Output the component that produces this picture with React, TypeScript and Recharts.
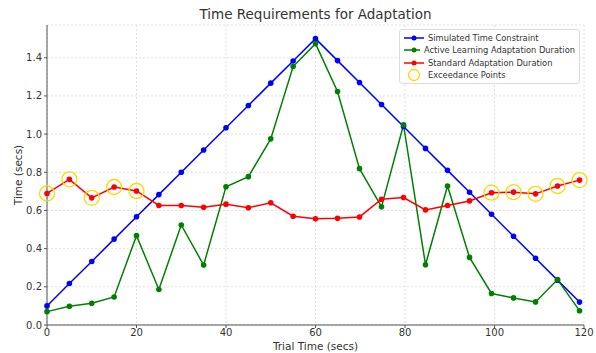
import React from 'react';
import {
  ComposedChart,
  Line,
  XAxis,
  YAxis,
  CartesianGrid,
} from 'recharts';

// trial times (secs) - second half is slightly compressed
const trialTimes = [
  0, 5, 10, 15, 20, 25, 30, 35, 40, 45, 50, 55, 60,
  64.92, 69.83, 74.75, 79.67, 84.58, 89.5, 94.42, 99.33, 104.25, 109.17, 114.08, 119,
];

const timeConstraint = [
  0.1, 0.217, 0.333, 0.45, 0.567, 0.683, 0.8, 0.917, 1.033, 1.15, 1.267, 1.383, 1.5,
  1.385, 1.27, 1.155, 1.04, 0.925, 0.81, 0.695, 0.58, 0.465, 0.35, 0.235, 0.12,
];

const activeLearning = [
  0.07, 0.098, 0.114, 0.147, 0.468, 0.186, 0.524, 0.314, 0.724, 0.777, 0.975, 1.354, 1.474,
  1.223, 0.819, 0.619, 1.049, 0.316, 0.728, 0.354, 0.165, 0.142, 0.121, 0.238, 0.075,
];

const standardAdaptation = [
  0.689, 0.763, 0.666, 0.723, 0.702, 0.626, 0.626, 0.617, 0.633, 0.614, 0.64, 0.57, 0.556,
  0.559, 0.566, 0.659, 0.668, 0.603, 0.626, 0.65, 0.693, 0.696, 0.687, 0.728, 0.759,
];

const xTicks = [0, 20, 40, 60, 80, 100, 120];
const yTicks = [0, 0.2, 0.4, 0.6, 0.8, 1.0, 1.2, 1.4];

const FONT = '"DejaVu Sans", sans-serif';

// red points that go above the time constraint get a gold ring
const data = trialTimes.map((t, i) => ({
  t,
  constraint: timeConstraint[i],
  active: activeLearning[i],
  standard: standardAdaptation[i],
  exceed: standardAdaptation[i] > timeConstraint[i] ? standardAdaptation[i] : null,
}));

const legendItems = [
  { label: 'Simulated Time Constraint', color: '#0000ff', ring: false },
  { label: 'Active Learning Adaptation Duration', color: '#008000', ring: false },
  { label: 'Standard Adaptation Duration', color: '#ff0000', ring: false },
  { label: 'Exceedance Points', color: '#ffd700', ring: true },
];

// drawn as an overlay so it doesn't steal height from the plot
function LegendBox() {
  return (
    <div
      style={{
        position: 'absolute',
        top: 29,
        left: 399,
        width: 181,
        boxSizing: 'border-box',
        background: 'rgba(255,255,255,0.85)',
        border: '1px solid #dcdcdc',
        borderRadius: 3,
        padding: '2px 4px 2px 4px',
        fontFamily: FONT,
        fontSize: 8.3,
        color: '#333',
        lineHeight: '12.3px',
        whiteSpace: 'nowrap',
      }}
    >
      {legendItems.map((item) => (
        <div key={item.label} style={{ display: 'flex', alignItems: 'center' }}>
          <svg width={20} height={12} style={{ marginRight: 4 }}>
            {item.ring ? (
              <circle cx={10} cy={6} r={5.5} fill="none" stroke={item.color} strokeWidth={1.3} />
            ) : (
              <>
                <line x1={0} y1={6} x2={20} y2={6} stroke={item.color} strokeWidth={1.5} />
                <circle cx={10} cy={6} r={2.5} fill={item.color} />
              </>
            )}
          </svg>
          <span>{item.label}</span>
        </div>
      ))}
    </div>
  );
}

function RingDot(props: any) {
  const { cx, cy, payload } = props;
  if (payload.exceed == null || cx == null || cy == null) return <g key={props.key} />;
  return (
    <circle key={props.key} cx={cx} cy={cy} r={7.5} fill="none" stroke="#ffd700" strokeWidth={1.3} />
  );
}

function YLabel({ viewBox }: any) {
  const x = 18;
  const y = viewBox.y + viewBox.height / 2;
  return (
    <text
      x={x}
      y={y}
      transform={`rotate(-90, ${x}, ${y})`}
      textAnchor="middle"
      dominantBaseline="central"
      fill="#333"
      fontSize={10.5}
      fontFamily={FONT}
    >
      Time (secs)
    </text>
  );
}

export default function App() {
  return (
    <div style={{ position: 'absolute', left: 0, top: 0, width: 596, height: 353, background: '#fff' }}>
      <div
        style={{
          position: 'absolute',
          top: 6,
          left: 47,
          width: 537,
          textAlign: 'center',
          fontFamily: FONT,
          fontSize: 13.5,
          color: '#333',
        }}
      >
        Time Requirements for Adaptation
      </div>
      <ComposedChart
        width={596}
        height={353}
        data={data}
        margin={{ top: 25, right: 12, bottom: 0, left: 0 }}
        style={{ fontFamily: FONT }}
      >
        <CartesianGrid stroke="#d8d8d8" strokeDasharray="2 2" strokeWidth={0.8} />
        <XAxis
          dataKey="t"
          type="number"
          domain={[0, 120]}
          ticks={xTicks}
          height={28}
          tickSize={3}
          tickMargin={1}
          stroke="#555"
          tick={{ fill: '#333', fontSize: 10 }}
          label={{ value: 'Trial Time (secs)', position: 'insideBottom', offset: 3, fill: '#333', fontSize: 10.5 }}
        />
        <YAxis
          type="number"
          domain={[0, 1.5715]}
          ticks={yTicks}
          width={47}
          tickSize={3}
          tickMargin={2}
          stroke="#555"
          tickFormatter={(v: number) => v.toFixed(1)}
          tick={{ fill: '#333', fontSize: 10 }}
          label={<YLabel />}
        />
        <Line
          dataKey="constraint"
          stroke="#0000ff"
          strokeWidth={1.5}
          dot={{ r: 2.8, fill: '#0000ff', stroke: 'none' }}
          isAnimationActive={false}
        />
        <Line
          dataKey="active"
          stroke="#008000"
          strokeWidth={1.5}
          dot={{ r: 2.8, fill: '#008000', stroke: 'none' }}
          isAnimationActive={false}
        />
        <Line
          dataKey="standard"
          stroke="#ff0000"
          strokeWidth={1.5}
          dot={{ r: 2.8, fill: '#ff0000', stroke: 'none' }}
          isAnimationActive={false}
        />
        <Line
          dataKey="exceed"
          stroke="none"
          dot={<RingDot />}
          activeDot={false}
          legendType="none"
          isAnimationActive={false}
        />
      </ComposedChart>
      <LegendBox />
    </div>
  );
}
